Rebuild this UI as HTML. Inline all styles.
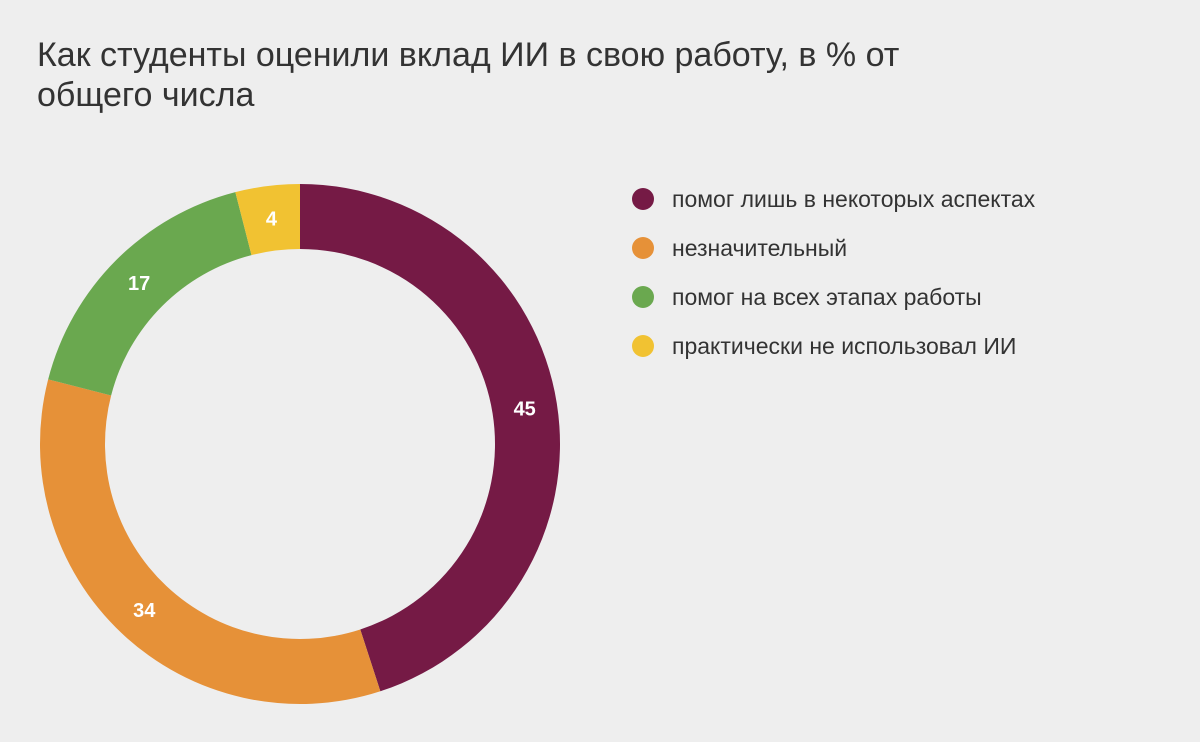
<!DOCTYPE html>
<html><head><meta charset="utf-8"><style>
body{margin:0;background:#eeeeee;}
svg{display:block;font-family:"Liberation Sans",Arial,sans-serif;}
</style></head><body>
<svg width="1200" height="742">
<rect width="1200" height="742" fill="#eeeeee"/>
<text x="37" y="66" font-size="34" fill="#333">Как студенты оценили вклад ИИ в свою работу, в % от</text>
<text x="37" y="106" font-size="34" fill="#333">общего числа</text>
<g id="slices"></g><g id="labels"></g><g id="legend"></g>
</svg>
<script>
const categories=["помог лишь в некоторых аспектах","незначительный","помог на всех этапах работы","практически не использовал ИИ"];
const values=[45,34,17,4];
const colors=["#751a45","#e69138","#6aa84f","#f1c232"];
const cx=300,cy=444,R=260,r=195;
const ns="http://www.w3.org/2000/svg";
const total=values.reduce((a,b)=>a+b,0);
function pt(rad,a){return [cx+rad*Math.sin(a),cy-rad*Math.cos(a)];}
let acc=0;
const sg=document.getElementById('slices'),lg=document.getElementById('labels'),leg=document.getElementById('legend');
values.forEach((v,i)=>{
 const a0=acc/total*2*Math.PI;acc+=v;const a1=acc/total*2*Math.PI;
 const big=(a1-a0)>Math.PI?1:0;
 const [x0,y0]=pt(R,a0),[x1,y1]=pt(R,a1),[x2,y2]=pt(r,a1),[x3,y3]=pt(r,a0);
 const p=document.createElementNS(ns,'path');
 p.setAttribute('d',`M${x0},${y0}A${R},${R} 0 ${big} 1 ${x1},${y1}L${x2},${y2}A${r},${r} 0 ${big} 0 ${x3},${y3}Z`);
 p.setAttribute('fill',colors[i]);
 
 
 sg.appendChild(p);
 const [lx,ly]=pt((R+r)/2,(a0+a1)/2);
 const t=document.createElementNS(ns,'text');
 t.setAttribute('x',lx);t.setAttribute('y',ly+7);t.setAttribute('text-anchor','middle');
 t.setAttribute('font-size','20');t.setAttribute('font-weight','bold');t.setAttribute('fill','#fff');
 t.textContent=v;
 
 
 lg.appendChild(t);
 const y=199+i*49;
 const g=document.createElementNS(ns,'g');
 
 
 const c=document.createElementNS(ns,'circle');
 c.setAttribute('cx',643);c.setAttribute('cy',y);c.setAttribute('r',11);c.setAttribute('fill',colors[i]);
 
 
 const lt=document.createElementNS(ns,'text');
 lt.setAttribute('x',672);lt.setAttribute('y',y+8);lt.setAttribute('font-size','23');lt.setAttribute('fill','#333');
 lt.textContent=categories[i];
 
 
 g.appendChild(c);g.appendChild(lt);leg.appendChild(g);
});
</script>
</body></html>
